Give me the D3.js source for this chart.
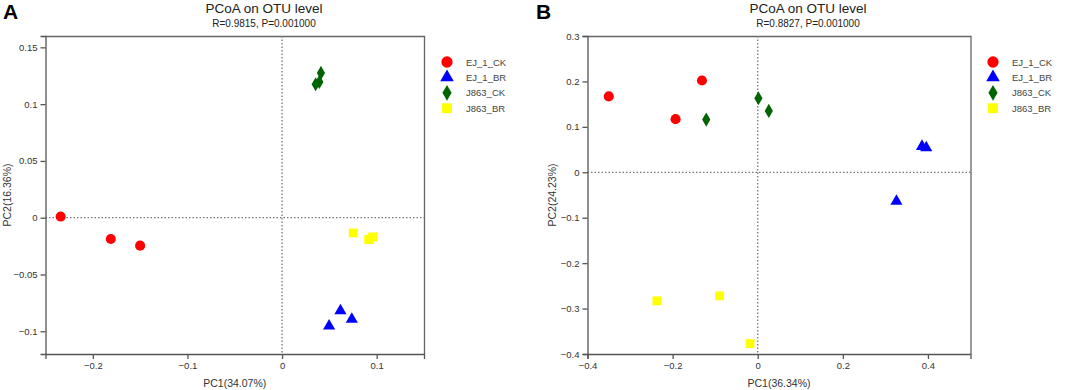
<!DOCTYPE html>
<html>
<head>
<meta charset="utf-8">
<script src="https://cdn.jsdelivr.net/npm/d3@7"></script>
<style>
  body { margin: 0; background: #fff; }
  svg text { font-family: "Liberation Sans", Arial, sans-serif; }
</style>
</head>
<body>
<div id="chart"></div>
<script>
// groups shared by both panels
const groups = ["EJ_1_CK", "EJ_1_BR", "J863_CK", "J863_BR"];
const colors = ["#ff0000", "#0000ff", "#006400", "#ffff00"];

// panel A points [pc1, pc2] per group
const pointsA = {
  EJ_1_CK: [[-0.234, 0.001], [-0.181, -0.0187], [-0.150, -0.0246]],
  EJ_1_BR: [[0.0497, -0.0954], [0.0617, -0.082], [0.0737, -0.0895]],
  J863_CK: [[0.0355, 0.1175], [0.0394, 0.1196], [0.0411, 0.1275]],
  J863_BR: [[0.0752, -0.0134], [0.0915, -0.0193], [0.0957, -0.0169]]
};
// panel B points
const pointsB = {
  EJ_1_CK: [[-0.350, 0.167], [-0.131, 0.202], [-0.193, 0.117]],
  EJ_1_BR: [[0.386, 0.057], [0.396, 0.054], [0.326, -0.064]],
  J863_CK: [[-0.121, 0.116], [0.0016, 0.163], [0.026, 0.135]],
  J863_BR: [[-0.237, -0.283], [-0.0894, -0.272], [-0.018, -0.377]]
};

const xTicksA = [-0.2, -0.1, 0, 0.1];
const yTicksA = [-0.1, -0.05, 0, 0.05, 0.1, 0.15];
const xTicksB = [-0.4, -0.2, 0, 0.2, 0.4];
const yTicksB = [-0.4, -0.3, -0.2, -0.1, 0, 0.1, 0.2, 0.3];

const width = 1065, height = 390;

const svg = d3.select("#chart").append("svg")
  .attr("width", width)
  .attr("height", height);

const symbolTypes = [d3.symbolCircle, d3.symbolTriangle, d3.symbolDiamond, d3.symbolSquare];
const symbolSizes = [80, 64, 58, 78];

function drawPanel(cfg) {
  const g = svg.append("g");
  const x = d3.scaleLinear().domain(cfg.xDomain).range([cfg.left, cfg.right]);
  const y = d3.scaleLinear().domain(cfg.yDomain).range([354, 36]);

  // frame top/right
  g.append("path")
    .attr("d", `M${cfg.left},36.5H${cfg.right + 0.5}V354`)
    .attr("fill", "none").attr("stroke", "#666").attr("stroke-width", 1.3);

  // zero lines
  g.append("line")
    .attr("x1", x(0)).attr("x2", x(0)).attr("y1", 36).attr("y2", 354)
    .attr("stroke", "#777").attr("stroke-width", 1.3).attr("stroke-dasharray", "1.5,2");
  g.append("line")
    .attr("x1", cfg.left).attr("x2", cfg.right).attr("y1", y(0)).attr("y2", y(0))
    .attr("stroke", "#777").attr("stroke-width", 1.3).attr("stroke-dasharray", "1.5,2");

  const xAxis = d3.axisBottom(x).tickValues(cfg.xTicks).tickSize(5).tickFormat(d => d3.format("")(d));
  const yAxis = d3.axisLeft(y).tickValues(cfg.yTicks).tickSize(5).tickFormat(d => d3.format("")(d));

  const gx = g.append("g").attr("transform", "translate(0,354)").call(xAxis);
  const gy = g.append("g").attr("transform", `translate(${cfg.left},0)`).call(yAxis);
  [gx, gy].forEach(a => {
    a.selectAll("path, line").attr("stroke", "#555").attr("stroke-width", 1.3);
    a.selectAll("text").attr("fill", "#333").style("font-size", "9.5px");
  });

  // points
  groups.forEach((grp, i) => {
    g.selectAll(null).data(cfg.points[grp]).enter().append("path")
      .attr("d", d3.symbol().type(symbolTypes[i]).size(symbolSizes[i]))
      .attr("transform", d => `translate(${x(d[0])},${y(d[1])})`)
      .attr("fill", colors[i]);
  });

  // titles
  g.append("text").attr("x", cfg.titleX).attr("y", 13).attr("text-anchor", "middle")
    .style("font-size", "13.5px").attr("fill", "#222").text("PCoA on OTU level");
  g.append("text").attr("x", cfg.titleX).attr("y", 27).attr("text-anchor", "middle")
    .style("font-size", "10px").attr("fill", "#222").text(cfg.subtitle);
  g.append("text").attr("x", cfg.letterX).attr("y", 19)
    .style("font-size", "21px").style("font-weight", "bold").attr("fill", "#000").text(cfg.letter);

  // axis labels
  g.append("text").attr("x", (cfg.left + cfg.right) / 2).attr("y", 387).attr("text-anchor", "middle")
    .style("font-size", "10.5px").attr("fill", "#333").text(cfg.xLabel);
  g.append("text")
    .attr("transform", `translate(${cfg.yLabelX},195) rotate(-90)`)
    .attr("text-anchor", "middle")
    .style("font-size", "10.5px").attr("fill", "#333").text(cfg.yLabel);

  // legend
  const lg = g.append("g");
  groups.forEach((grp, i) => {
    const ly = 62 + i * 15.4;
    lg.append("path")
      .attr("d", d3.symbol().type(symbolTypes[i]).size(symbolSizes[i] * 1.25))
      .attr("transform", `translate(${cfg.legendX},${ly})`)
      .attr("fill", colors[i]);
    lg.append("text").attr("x", cfg.legendX + 19).attr("y", ly + 3.5)
      .style("font-size", "9.5px").attr("fill", "#444").text(grp);
  });
}

drawPanel({
  left: 45.5, right: 424,
  xDomain: [-0.25, 0.15], yDomain: [-0.12, 0.16],
  xTicks: xTicksA, yTicks: yTicksA,
  points: pointsA,
  titleX: 264, letterX: 3, letter: "A",
  subtitle: "R=0.9815, P=0.001000",
  xLabel: "PC1(34.07%)", yLabel: "PC2(16.36%)", yLabelX: 11,
  legendX: 447
});

drawPanel({
  left: 587.5, right: 970.5,
  xDomain: [-0.4, 0.5], yDomain: [-0.4, 0.3],
  xTicks: xTicksB, yTicks: yTicksB,
  points: pointsB,
  titleX: 808, letterX: 536, letter: "B",
  subtitle: "R=0.8827, P=0.001000",
  xLabel: "PC1(36.34%)", yLabel: "PC2(24.23%)", yLabelX: 556,
  legendX: 993
});
</script>
</body>
</html>
